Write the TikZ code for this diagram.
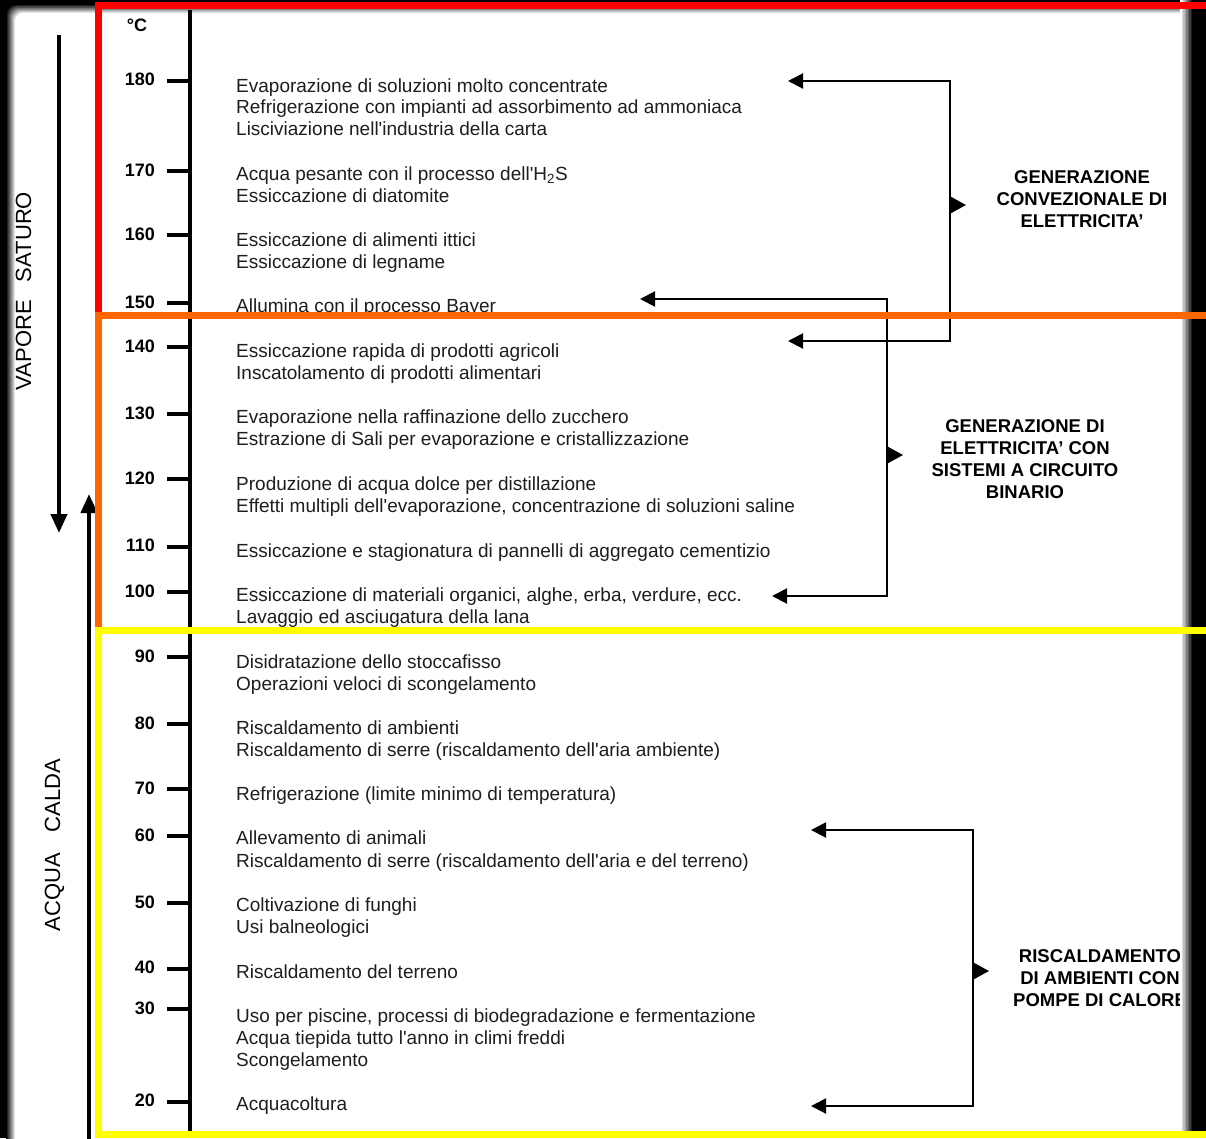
\documentclass[tikz,border=0pt]{standalone}
\usepackage{fontspec}
\newfontfamily\af{Liberation Sans}
\usetikzlibrary{arrows.meta}
\definecolor{fred}{RGB}{255,0,0}
\definecolor{forange}{RGB}{255,102,0}
\definecolor{fyellow}{RGB}{255,255,0}
\definecolor{txt}{RGB}{30,30,30}
\begin{document}
\begin{tikzpicture}[x=1pt,y=-1pt,
  item/.style={anchor=base west, inner sep=0pt, font=\af\fontsize{19}{22}\selectfont, text=txt},
  deg/.style={anchor=east, inner sep=0pt, font=\af\bfseries\fontsize{18}{22}\selectfont},
  grouplabel/.style={align=center, inner sep=0pt, font=\af\bfseries\fontsize{18.5}{22}\selectfont},
  sidelabel/.style={rotate=90, inner sep=0pt, font=\af\fontsize{22}{26}\selectfont},
  tickline/.style={line width=4pt},
  brk/.style={line width=2pt, arrows={Triangle[length=15pt,width=15pt]-Triangle[length=15pt,width=15pt]}},
  midhead/.style={line width=2pt, arrows={-Triangle[length=16pt,width=17pt]}},
  bigarrow/.style={line width=4pt, arrows={-Triangle[length=19pt,width=16pt]}},
  frame/.style={line width=7pt}]
\useasboundingbox (0,0) rectangle (1206,1138);
% background with blurred edges
\fill[black] (0,0) rectangle (1206,1138);
\foreach \i [evaluate=\i as \p using int(\i*12.5)] in {0,...,8}
  \fill[white!\p!black, rounded corners=9pt] (6+1.1*\i,4+1.1*\i) rectangle (1206,1160);
% axis
\coordinate (axtop) at (190,10);
\coordinate (axbot) at (190,1134);
\draw[line width=4pt] (axtop) -- (axbot);
\node[anchor=center, inner sep=0pt, font=\af\bfseries\fontsize{18}{22}\selectfont] (unit) at (137,25.5) {°C};
\foreach \v/\y in {180/80.5,170/171,160/235,150/303,140/347,130/414,120/479,110/546.5,100/592,90/657,80/724,70/789,60/836,50/903,40/968.5,30/1009,20/1101.5}{
  \coordinate (tka\v) at (167,\y);
  \coordinate (tkb\v) at (191,\y);
  \draw[tickline] (tka\v) -- (tkb\v);
  \node[deg] (lab\v) at (155,\y-1) {\v};
}
% items
\foreach \n/\y/\t in {
  1/85/{Evaporazione di soluzioni molto concentrate},
  2/106/{Refrigerazione con impianti ad assorbimento ad ammoniaca},
  3/128/{Lisciviazione nell'industria della carta},
  4/173/{Acqua pesante con il processo dell'H\textsubscript{2}S},
  5/195/{Essiccazione di diatomite},
  6/239/{Essiccazione di alimenti ittici},
  7/261/{Essiccazione di legname},
  8/305/{Allumina con il processo Bayer},
  9/350/{Essiccazione rapida di prodotti agricoli},
  10/372/{Inscatolamento di prodotti alimentari},
  11/416/{Evaporazione nella raffinazione dello zucchero},
  12/438/{Estrazione di Sali per evaporazione e cristallizzazione},
  13/483/{Produzione di acqua dolce per distillazione},
  14/505/{Effetti multipli dell'evaporazione, concentrazione di soluzioni saline},
  15/550/{Essiccazione e stagionatura di pannelli di aggregato cementizio},
  16/594/{Essiccazione di materiali organici, alghe, erba, verdure, ecc.},
  17/616/{Lavaggio ed asciugatura della lana},
  18/661/{Disidratazione dello stoccafisso},
  19/683/{Operazioni veloci di scongelamento},
  20/727/{Riscaldamento di ambienti},
  21/749/{Riscaldamento di serre (riscaldamento dell'aria ambiente)},
  22/793/{Refrigerazione (limite minimo di temperatura)},
  23/837/{Allevamento di animali},
  24/860/{Riscaldamento di serre (riscaldamento dell'aria e del terreno)},
  25/904/{Coltivazione di funghi},
  26/926/{Usi balneologici},
  27/971/{Riscaldamento del terreno},
  28/1015/{Uso per piscine, processi di biodegradazione e fermentazione},
  29/1037/{Acqua tiepida tutto l'anno in climi freddi},
  30/1059/{Scongelamento},
  31/1103/{Acquacoltura}}{
  \node[item] (it\n) at (236,\y+7) {\t};
}
% side labels and arrows
\node[sidelabel] (vap) at (23.5,291) {VAPORE\hspace{18pt}SATURO};
\node[sidelabel] (acq) at (54.5,845) {ACQUA\hspace{21pt}CALDA};
\coordinate (vs) at (59,35);
\coordinate (ve) at (59,533);
\draw[bigarrow] (vs) -- (ve);
\coordinate (as) at (89,1140);
\coordinate (ae) at (89,494);
\draw[bigarrow] (as) -- (ae);
% group labels
\node[grouplabel] (g1) at (1082,199) {GENERAZIONE\\CONVEZIONALE DI\\ELETTRICITA’};
\node[grouplabel] (g2) at (1025,459.5) {GENERAZIONE DI\\ELETTRICITA’ CON\\SISTEMI A CIRCUITO\\BINARIO};
\node[grouplabel] (g3) at (1100,978) {RISCALDAMENTO\\DI AMBIENTI CON\\POMPE DI CALORE};
% brackets
\coordinate (a1) at (788,81);  \coordinate (k1) at (950,81);
\coordinate (k2) at (950,341); \coordinate (a2) at (788,341);
\draw[brk] (a1) -- (k1) -- (k2) -- (a2);
\coordinate (m1s) at (950,205); \coordinate (m1e) at (966,205);
\draw[midhead] (m1s) -- (m1e);
\coordinate (a3) at (640,299); \coordinate (k3) at (887,299);
\coordinate (k4) at (887,596); \coordinate (a4) at (772,596);
\draw[brk] (a3) -- (k3) -- (k4) -- (a4);
\coordinate (m2s) at (887,455); \coordinate (m2e) at (903,455);
\draw[midhead] (m2s) -- (m2e);
\coordinate (a5) at (811,830); \coordinate (k5) at (973,830);
\coordinate (k6) at (973,1106); \coordinate (a6) at (811,1106);
\draw[brk] (a5) -- (k5) -- (k6) -- (a6);
\coordinate (m3s) at (973,971); \coordinate (m3e) at (989,971);
\draw[midhead] (m3s) -- (m3e);
% right blurred edge overlay
\foreach \i [evaluate=\i as \p using int(\i*12.5)] in {8,7,...,0}
  \fill[white!\p!black] (1192-1.5*\i,0) rectangle (1206,1138);
% frames
\draw[frame, fred] (98,5) rectangle (1230,315.5);
\draw[frame, forange] (98,315.5) rectangle (1230,630.5);
\draw[frame, fyellow] (98,630.5) rectangle (1230,1134.5);
\end{tikzpicture}
\end{document}
